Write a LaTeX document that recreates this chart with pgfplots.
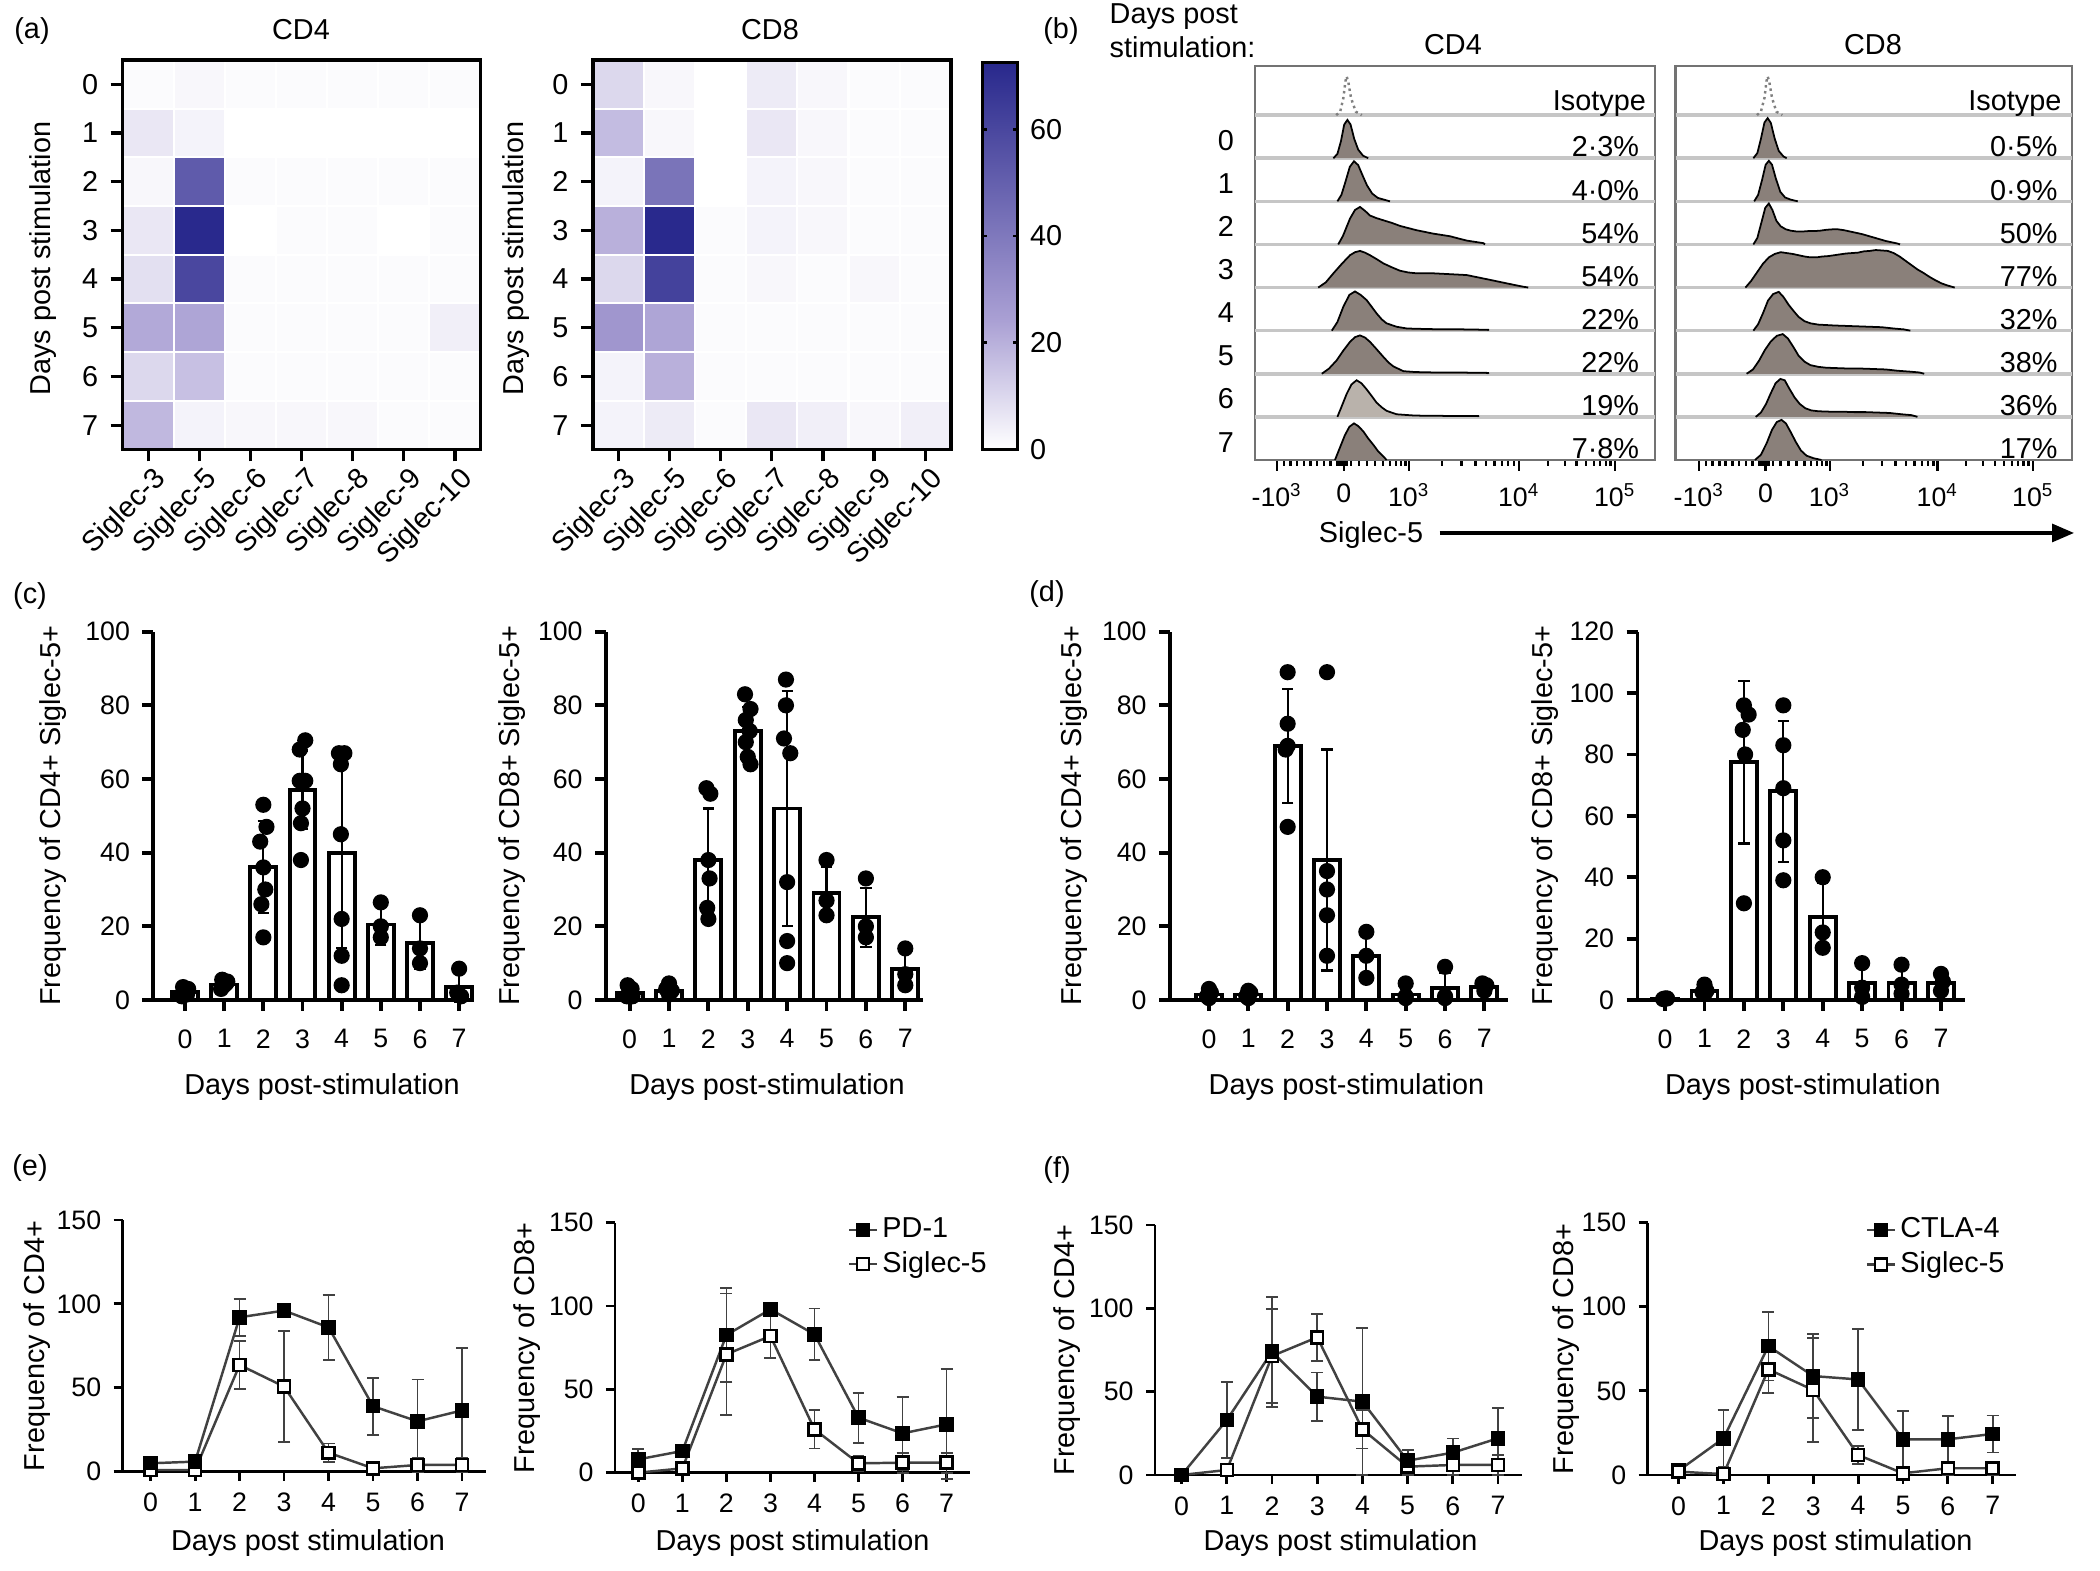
\documentclass[border=0pt]{standalone}
\usepackage{pgfplots}
\pgfplotsset{compat=1.18}
\usepackage{fontspec}
\setmainfont{Liberation Sans}
\usetikzlibrary{arrows.meta}
\definecolor{histfill}{RGB}{138,128,122}
\definecolor{histlight}{RGB}{185,178,171}
\definecolor{lgray}{RGB}{65,65,65}
\definecolor{framegray}{RGB}{115,115,115}
\newcommand{\fs}{\fontsize{8.2}{9.8}\selectfont}
\newcommand{\ts}{\fontsize{7.6}{9}\selectfont}

\pgfplotsset{
  every axis/.append style={font=\fs, /pgf/number format/assume math mode=true,
    every tick label/.append style={font=\ts}},
  heat/.style={
    scale only axis, width=35.8mm, height=38.95mm,
    xmin=-0.5, xmax=6.5, ymin=-0.5, ymax=7.5,
    colormap={sig}{rgb255(0cm)=(255,255,255) rgb255(1cm)=(170,160,212) rgb255(3cm)=(40,40,140)},
    point meta min=0, point meta max=72.5,
    xtick={0,...,6}, ytick={0,...,7},
    xticklabels={Siglec-3,Siglec-5,Siglec-6,Siglec-7,Siglec-8,Siglec-9,Siglec-10},
    yticklabels={7,6,5,4,3,2,1,0},
    xticklabel style={font=\fs, xshift=2.2mm, yshift=-0.5mm, rotate=45, anchor=east},
    yticklabel style={font=\fs},
    tick align=outside, tick pos=left,
    major tick length=1.2mm, tick style={black, line width=0.9pt},
    axis line style={line width=1pt},
    minor xtick={0.5,1.5,...,5.5}, minor ytick={0.5,1.5,...,6.5},
    minor tick length=0pt,
    xminorgrids, yminorgrids, minor grid style={white, line width=0.6pt},
    axis on top,
    ylabel={Days post stimulation},
  },
  hist/.style={
    scale only axis, height=39.4mm, xmin=0, xmax=100, ymin=0, ymax=9.14,
    ytick=\empty, tick pos=left, tick align=outside,
    major tick length=1.1mm, minor tick length=0.6mm,
    tick style={black, line width=0.7pt},
    axis line style={framegray, line width=0.7pt},
    extra y ticks={1,2,3,4,5,6,7,8},
    extra y tick labels={},
    extra y tick style={grid=major, major grid style={gray!45, line width=1pt}, tick style={draw=none}},
    xticklabels={-10\textsuperscript{3},0,10\textsuperscript{3},10\textsuperscript{4},10\textsuperscript{5}},
    clip=false,
  },
  barax/.style={
    scale only axis, height=36.83mm, ymin=0,
    axis lines*=left, xtick={0,...,7}, tick align=outside,
    major tick length=1.1mm, axis line style={line width=1.1pt},
    tick style={black, line width=1.1pt}, clip=false,
    xlabel={Days post-stimulation},
    xticklabel style={yshift=-0.6mm},
  },
  linax/.style={
    scale only axis, ymin=0, ymax=150, ytick={0,50,100,150},
    axis lines*=left, xtick={0,...,7}, tick align=outside,
    major tick length=0.9mm, axis line style={line width=0.8pt},
    tick style={black, line width=0.8pt}, clip=false,
    xlabel={Days post stimulation},
    legend style={draw=none, fill=none, inner sep=0pt, row sep=0pt, font=\fs, nodes={inner sep=1.2pt}},
    legend cell align=left,
    legend image code/.code={\draw[##1, mark repeat=2, mark phase=2] plot coordinates {(0mm,0mm) (1.4mm,0mm) (2.8mm,0mm)};},
  },
  barplot/.style={ybar, bar width=0.66, fill=white, draw=black, line width=1.1pt,
     error bars/.cd, y dir=both, y explicit,
     error bar style={line width=0.6pt, black},
     error mark options={rotate=90, mark size=1.6pt, line width=0.6pt, black}},
  dots/.style={only marks, mark=*, mark size=2.1pt, black},
  hf/.style={fill=histfill, draw=black, line width=0.5pt},
  iso/.style={draw=gray, densely dotted, line width=0.7pt},
  pdline/.style={lgray, line width=0.7pt, mark=square*, mark size=1.7pt, mark options={draw=black, fill=black, solid},
     error bars/.cd, y dir=both, y explicit, error bar style={line width=0.5pt, lgray},
     error mark options={rotate=90, mark size=1.7pt, line width=0.5pt, lgray}},
  sgline/.style={lgray, line width=0.7pt, mark=square*, mark size=1.7pt, mark options={draw=black, fill=white, solid},
     error bars/.cd, y dir=both, y explicit, error bar style={line width=0.5pt, lgray},
     error mark options={rotate=90, mark size=1.7pt, line width=0.5pt, lgray}},
}

\begin{document}
\begin{tikzpicture}[font=\fs]
\useasboundingbox (0,0) rectangle (210mm,157.1mm);

% ================= (a) heatmaps =================
\begin{axis}[heat, at={(12.26mm,112.15mm)}, anchor=south west,
  ylabel style={at={(axis description cs:-0.221,0.49)}, anchor=center}]
\addplot[matrix plot*, point meta=explicit, mesh/cols=7] table[row sep=\\, meta=c]{
x y c\\
0 0 18\\ 1 0 3\\ 2 0 2\\ 3 0 2\\ 4 0 2\\ 5 0 1\\ 6 0 1\\
0 1 10\\ 1 1 16\\ 2 1 1\\ 3 1 1\\ 4 1 1\\ 5 1 1\\ 6 1 1\\
0 2 22\\ 1 2 23\\ 2 2 1\\ 3 2 1\\ 4 2 1\\ 5 2 1\\ 6 2 4\\
0 3 8\\ 1 3 60\\ 2 3 1\\ 3 3 1\\ 4 3 1\\ 5 3 1\\ 6 3 1\\
0 4 6\\ 1 4 72\\ 2 4 0\\ 3 4 1\\ 4 4 1\\ 5 4 0\\ 6 4 1\\
0 5 2\\ 1 5 52\\ 2 5 1\\ 3 5 1\\ 4 5 1\\ 5 5 1\\ 6 5 1\\
0 6 6\\ 1 6 3\\ 2 6 0\\ 3 6 0\\ 4 6 0\\ 5 6 0\\ 6 6 0\\
0 7 1\\ 1 7 2\\ 2 7 1\\ 3 7 1\\ 4 7 1\\ 5 7 1\\ 6 7 1\\
};
\end{axis}

\begin{axis}[heat, at={(59.28mm,112.15mm)}, anchor=south west,
  ylabel style={at={(axis description cs:-0.215,0.49)}, anchor=center},
  colorbar,
  colorbar style={at={(parent axis.south east)}, anchor=south west, xshift=0.15mm,
    scale only axis, width=3.55mm, height=38.7mm, ytick={0,20,40,60},
    yticklabel pos=right, ytick pos=both, major tick length=0.5mm, tick align=inside,
    tick style={black, line width=0.8pt}, axis line style={line width=0.9pt},
    yticklabel style={font=\fs}}]
\addplot[matrix plot*, point meta=explicit, mesh/cols=7] table[row sep=\\, meta=c]{
x y c\\
0 0 3\\ 1 0 5\\ 2 0 1\\ 3 0 6\\ 4 0 4\\ 5 0 2\\ 6 0 4\\
0 1 3\\ 1 1 20\\ 2 1 1\\ 3 1 1\\ 4 1 1\\ 5 1 1\\ 6 1 1\\
0 2 28\\ 1 2 23\\ 2 2 1\\ 3 2 1\\ 4 2 1\\ 5 2 1\\ 6 2 1\\
0 3 10\\ 1 3 62\\ 2 3 1\\ 3 3 2\\ 4 3 1\\ 5 3 2\\ 6 3 1\\
0 4 20\\ 1 4 72\\ 2 4 1\\ 3 4 3\\ 4 4 2\\ 5 4 1\\ 6 4 1\\
0 5 3\\ 1 5 42\\ 2 5 0\\ 3 5 3\\ 4 5 2\\ 5 5 1\\ 6 5 1\\
0 6 17\\ 1 6 2\\ 2 6 0\\ 3 6 6\\ 4 6 2\\ 5 6 1\\ 6 6 1\\
0 7 10\\ 1 7 2\\ 2 7 0\\ 3 7 5\\ 4 7 2\\ 5 7 1\\ 6 7 1\\
};
\end{axis}

% ================= (b) histograms =================
\begin{axis}[hist, at={(125.5mm,111.1mm)}, anchor=south west, width=40mm,
  xtick={5.5,22.2,38.5,66,90},
  minor xtick={7.2,8.9,10.5,12.2,13.9,15.5,17.2,18.9,20.5,21.0,21.4,21.8,22.6,23.0,24,26,28,30,32,33.7,35.2,36.5,37.6,46.8,51.6,55.1,57.7,59.9,61.7,63.3,64.7,73.2,77.5,80.4,82.8,84.7,86.3,87.7,88.9}]
\addplot[iso] table[row sep=\\, x=u, y expr=\thisrow{h}+8]{u h\\ 20.3 0\\ 21.3 0.08\\ 22.1 0.4\\ 22.6 0.78\\ 22.9 0.9\\ 23.3 0.78\\ 24 0.4\\ 25.2 0.08\\ 26.7 0\\};
\addplot[hf] table[row sep=\\, x=u, y expr=\thisrow{h}+7]{u h\\ 19.6 0\\ 20.6 0.1\\ 21.5 0.4\\ 22.3 0.78\\ 23.1 0.89\\ 23.9 0.78\\ 24.8 0.45\\ 25.8 0.2\\ 27 0.06\\ 28.3 0\\};
\addplot[hf] table[row sep=\\, x=u, y expr=\thisrow{h}+6]{u h\\ 20.6 0\\ 21.6 0.15\\ 22.6 0.45\\ 23.7 0.8\\ 24.75 0.93\\ 25.8 0.84\\ 26.9 0.6\\ 28 0.37\\ 29.3 0.18\\ 30.7 0.08\\ 32.2 0.04\\ 33.75 0\\};
\addplot[hf] table[row sep=\\, x=u, y expr=\thisrow{h}+5]{u h\\ 20.8 0\\ 22 0.2\\ 23.75 0.6\\ 25 0.8\\ 26.25 0.87\\ 27.5 0.78\\ 28.75 0.67\\ 30.4 0.61\\ 32.1 0.56\\ 34.2 0.5\\ 36.25 0.43\\ 38.3 0.38\\ 40.4 0.33\\ 42.5 0.29\\ 44.6 0.25\\ 46.7 0.22\\ 48.75 0.19\\ 50.8 0.14\\ 52.9 0.09\\ 55 0.06\\ 57.1 0.03\\ 57.5 0\\};
\addplot[hf] table[row sep=\\, x=u, y expr=\thisrow{h}+4]{u h\\ 15.8 0\\ 17.7 0.12\\ 19.6 0.33\\ 21.7 0.55\\ 23.75 0.75\\ 25 0.82\\ 26.25 0.85\\ 27.5 0.81\\ 28.75 0.75\\ 30.4 0.66\\ 32.1 0.56\\ 34.2 0.47\\ 36.25 0.39\\ 38.3 0.35\\ 40.4 0.33\\ 42.5 0.33\\ 44.6 0.33\\ 46.7 0.32\\ 48.75 0.31\\ 50.8 0.3\\ 52.9 0.29\\ 55 0.25\\ 57.1 0.21\\ 59.2 0.17\\ 61.25 0.13\\ 63.3 0.09\\ 65.4 0.05\\ 67 0.02\\ 68.3 0\\};
\addplot[hf] table[row sep=\\, x=u, y expr=\thisrow{h}+3]{u h\\ 19.2 0\\ 20.6 0.2\\ 22.1 0.56\\ 23.6 0.83\\ 25 0.91\\ 26.4 0.83\\ 27.9 0.71\\ 29.2 0.55\\ 30.4 0.4\\ 31.7 0.26\\ 32.9 0.17\\ 35.4 0.09\\ 38 0.05\\ 42 0.04\\ 47 0.03\\ 52 0.03\\ 58.3 0.02\\ 58.4 0\\};
\addplot[hf] table[row sep=\\, x=u, y expr=\thisrow{h}+2]{u h\\ 16.7 0\\ 18.5 0.12\\ 20.4 0.31\\ 22.1 0.54\\ 23.75 0.74\\ 25 0.85\\ 26.25 0.89\\ 27.5 0.84\\ 28.75 0.74\\ 30.4 0.57\\ 32.1 0.39\\ 33.4 0.26\\ 34.6 0.17\\ 37.1 0.06\\ 40 0.04\\ 45 0.03\\ 50 0.03\\ 58.3 0.02\\ 58.4 0\\};
\addplot[hf, fill=histlight] table[row sep=\\, x=u, y expr=\thisrow{h}+1]{u h\\ 20.6 0\\ 21.7 0.25\\ 22.9 0.53\\ 24.1 0.75\\ 25.4 0.85\\ 26.6 0.78\\ 27.9 0.64\\ 29.2 0.48\\ 30.4 0.33\\ 31.7 0.22\\ 32.9 0.14\\ 35.4 0.06\\ 40 0.03\\ 50 0.02\\ 55.8 0.02\\ 55.9 0\\};
\addplot[hf] table[row sep=\\, x=u, y=h]{u h\\ 20 0\\ 21.2 0.28\\ 22.5 0.58\\ 23.6 0.77\\ 24.75 0.85\\ 25.9 0.78\\ 27.1 0.66\\ 28.3 0.5\\ 29.6 0.35\\ 30.8 0.2\\ 32.1 0.08\\ 32.9 0\\};
\node[anchor=base east, inner sep=0pt] at (axis cs:97.9,8.1) {Isotype};
\node[anchor=base east, inner sep=0pt] at (axis cs:96.2,7.03) {2·3\%};
\node[anchor=base east, inner sep=0pt] at (axis cs:96.2,6.03) {4·0\%};
\node[anchor=base east, inner sep=0pt] at (axis cs:96.2,5.03) {54\%};
\node[anchor=base east, inner sep=0pt] at (axis cs:96.2,4.03) {54\%};
\node[anchor=base east, inner sep=0pt] at (axis cs:96.2,3.03) {22\%};
\node[anchor=base east, inner sep=0pt] at (axis cs:96.2,2.03) {22\%};
\node[anchor=base east, inner sep=0pt] at (axis cs:96.2,1.03) {19\%};
\node[anchor=base east, inner sep=0pt] at (axis cs:96.2,0.03) {7·8\%};
\node[anchor=east] at (axis cs:-2.2,7.42) {0};
\node[anchor=east] at (axis cs:-2.2,6.42) {1};
\node[anchor=east] at (axis cs:-2.2,5.42) {2};
\node[anchor=east] at (axis cs:-2.2,4.42) {3};
\node[anchor=east] at (axis cs:-2.2,3.42) {4};
\node[anchor=east] at (axis cs:-2.2,2.42) {5};
\node[anchor=east] at (axis cs:-2.2,1.42) {6};
\node[anchor=east] at (axis cs:-2.2,0.40) {7};
\end{axis}

\begin{axis}[hist, at={(167.57mm,111.1mm)}, anchor=south west, width=39.63mm,
  xtick={5.9,22.7,38.9,66.1,90.2},
  minor xtick={7.6,9.3,11,12.6,14.3,16,17.7,19.4,21,21.5,21.9,22.3,23.1,23.5,24.5,26.5,28.5,30.5,32.5,34.1,35.6,36.9,38,47.2,52,55.5,58.1,60.3,62.1,63.7,65.1,73.3,77.6,80.5,82.9,84.8,86.4,87.8,89}]
\addplot[iso] table[row sep=\\, x=u, y expr=\thisrow{h}+8]{u h\\ 20.5 0\\ 21.5 0.08\\ 22.4 0.4\\ 22.9 0.78\\ 23.2 0.9\\ 23.6 0.78\\ 24.3 0.4\\ 25.4 0.08\\ 26.9 0\\};
\addplot[hf] table[row sep=\\, x=u, y expr=\thisrow{h}+7]{u h\\ 19.6 0\\ 20.6 0.12\\ 21.5 0.45\\ 22.4 0.83\\ 23.2 0.93\\ 24 0.82\\ 25 0.45\\ 26 0.17\\ 27.2 0.04\\ 28 0\\};
\addplot[hf] table[row sep=\\, x=u, y expr=\thisrow{h}+6]{u h\\ 19.8 0\\ 20.8 0.15\\ 21.8 0.5\\ 22.7 0.85\\ 23.5 0.94\\ 24.3 0.85\\ 25.3 0.52\\ 26.4 0.22\\ 27.6 0.09\\ 29 0.04\\ 30.8 0\\};
\addplot[hf] table[row sep=\\, x=u, y expr=\thisrow{h}+5]{u h\\ 19.6 0\\ 20.6 0.15\\ 21.6 0.5\\ 22.6 0.85\\ 23.5 0.95\\ 24.4 0.8\\ 25.4 0.55\\ 26.5 0.42\\ 27.8 0.35\\ 29 0.32\\ 30.5 0.3\\ 32 0.3\\ 33.5 0.31\\ 35 0.31\\ 36.5 0.32\\ 38 0.34\\ 39.5 0.35\\ 41 0.35\\ 42.5 0.33\\ 44 0.3\\ 45.5 0.27\\ 47 0.24\\ 48.5 0.2\\ 50 0.16\\ 51.5 0.12\\ 53 0.08\\ 54.5 0.05\\ 56 0.02\\ 56.6 0\\};
\addplot[hf] table[row sep=\\, x=u, y expr=\thisrow{h}+4]{u h\\ 17.6 0\\ 19 0.15\\ 20.5 0.35\\ 22 0.55\\ 23.5 0.7\\ 25 0.78\\ 26.5 0.82\\ 28 0.8\\ 29.5 0.78\\ 31 0.75\\ 32.5 0.72\\ 34 0.7\\ 35.5 0.7\\ 37 0.72\\ 38.5 0.73\\ 40 0.75\\ 41.5 0.77\\ 43 0.79\\ 44.5 0.8\\ 46 0.81\\ 47.5 0.84\\ 49 0.85\\ 50.5 0.87\\ 52 0.86\\ 53.5 0.85\\ 55 0.8\\ 56.5 0.72\\ 58 0.62\\ 59.5 0.52\\ 61 0.42\\ 62.5 0.34\\ 64 0.25\\ 65.5 0.17\\ 67 0.1\\ 68.5 0.05\\ 70.4 0\\};
\addplot[hf] table[row sep=\\, x=u, y expr=\thisrow{h}+3]{u h\\ 19.6 0\\ 20.8 0.15\\ 22 0.4\\ 23.3 0.7\\ 24.6 0.85\\ 26 0.9\\ 27.2 0.78\\ 28.5 0.6\\ 29.8 0.45\\ 31 0.32\\ 32.5 0.22\\ 34 0.17\\ 36 0.14\\ 38 0.13\\ 40 0.12\\ 43 0.11\\ 46 0.1\\ 49 0.09\\ 52 0.08\\ 55 0.05\\ 57.5 0.03\\ 59.2 0\\};
\addplot[hf] table[row sep=\\, x=u, y expr=\thisrow{h}+2]{u h\\ 17.9 0\\ 19.5 0.1\\ 21 0.3\\ 22.5 0.55\\ 24 0.75\\ 25.5 0.88\\ 27 0.92\\ 28.3 0.82\\ 29.7 0.62\\ 31 0.42\\ 32.5 0.28\\ 34 0.2\\ 36 0.16\\ 38 0.14\\ 41 0.13\\ 44 0.12\\ 47 0.12\\ 50 0.11\\ 53 0.1\\ 56 0.07\\ 59 0.05\\ 61.5 0.03\\ 62.7 0\\};
\addplot[hf] table[row sep=\\, x=u, y expr=\thisrow{h}+1]{u h\\ 20.2 0\\ 21.5 0.1\\ 22.8 0.3\\ 24 0.55\\ 25.2 0.78\\ 26.4 0.88\\ 27.5 0.85\\ 28.7 0.65\\ 30 0.45\\ 31.3 0.3\\ 32.7 0.2\\ 34.2 0.15\\ 36 0.13\\ 39 0.12\\ 42 0.12\\ 45 0.11\\ 48 0.11\\ 51 0.1\\ 54 0.09\\ 57 0.06\\ 59.5 0.04\\ 61 0\\};
\addplot[hf] table[row sep=\\, x=u, y=h]{u h\\ 20 0\\ 21.5 0.12\\ 23 0.4\\ 24.3 0.7\\ 25.5 0.88\\ 26.7 0.93\\ 27.8 0.85\\ 29 0.65\\ 30.3 0.42\\ 31.6 0.22\\ 33 0.1\\ 34.8 0.04\\ 36.8 0\\};
\node[anchor=base east, inner sep=0pt] at (axis cs:97.5,8.1) {Isotype};
\node[anchor=base east, inner sep=0pt] at (axis cs:96.5,7.03) {0·5\%};
\node[anchor=base east, inner sep=0pt] at (axis cs:96.5,6.03) {0·9\%};
\node[anchor=base east, inner sep=0pt] at (axis cs:96.5,5.03) {50\%};
\node[anchor=base east, inner sep=0pt] at (axis cs:96.5,4.03) {77\%};
\node[anchor=base east, inner sep=0pt] at (axis cs:96.5,3.03) {32\%};
\node[anchor=base east, inner sep=0pt] at (axis cs:96.5,2.03) {38\%};
\node[anchor=base east, inner sep=0pt] at (axis cs:96.5,1.03) {36\%};
\node[anchor=base east, inner sep=0pt] at (axis cs:96.5,0.03) {17\%};
\end{axis}

% ================= (c) =================
\begin{axis}[barax, at={(15.33mm,57.1mm)}, anchor=south west, width=31.6mm,
  xmin=-0.81, xmax=7.26, ymax=100, ytick={0,20,...,100},
  ylabel={Frequency of CD4+ Siglec-5+},
  ylabel style={at={(axis description cs:-0.316,0.5)}, anchor=center},
  xlabel style={at={(axis description cs:0.534,-0.236)}, anchor=center}]
\addplot[barplot] table[row sep=\\, x=x, y=m, y error=e]{x m e\\ 0 2.2 1\\ 1 4.2 1\\ 2 36 12.5\\ 3 57 10.5\\ 4 40 26\\ 5 20.5 5.5\\ 6 15.5 7\\ 7 3.6 4\\};
\addplot[dots] table[row sep=\\]{x y\\ -0.08 1\\ 0 2\\ 0.08 3\\ 0.05 1.5\\ -0.05 3.5\\ 0 2.5\\ 0.92 3\\ 1 4\\ 1.08 5\\ 0.95 5.5\\ 1.05 4.5\\ 2 53\\ 2.08 47\\ 1.92 43\\ 2 36\\ 2.05 30\\ 1.95 26\\ 2 17\\ 3.07 70.5\\ 2.93 68\\ 2.93 59.5\\ 3.07 59.5\\ 3 52\\ 2.96 48\\ 2.96 38\\ 3.93 67\\ 4.07 67\\ 3.98 64\\ 3.98 45\\ 4 22\\ 4 12\\ 4 4\\ 5 26.5\\ 5 20\\ 5 17\\ 6 23\\ 6 14\\ 6 10\\ 7 8.5\\ 6.95 2\\ 7.05 1\\};
\end{axis}

\begin{axis}[barax, at={(60.6mm,57.1mm)}, anchor=south west, width=31.7mm,
  xmin=-0.6, xmax=7.45, ymax=100, ytick={0,20,...,100},
  ylabel={Frequency of CD8+ Siglec-5+},
  ylabel style={at={(axis description cs:-0.295,0.5)}, anchor=center},
  xlabel style={at={(axis description cs:0.508,-0.236)}, anchor=center}]
\addplot[barplot] table[row sep=\\, x=x, y=m, y error=e]{x m e\\ 0 2 1\\ 1 2.5 1.2\\ 2 38 14\\ 3 73 6.5\\ 4 52 32\\ 5 29 7\\ 6 22.5 8\\ 7 8.5 5\\};
\addplot[dots] table[row sep=\\]{x y\\ -0.05 4\\ 0.05 3\\ 0 2\\ -0.07 1\\ 0.07 1\\ 1 4.5\\ 0.93 3\\ 1.07 2.5\\ 1 1.5\\ 1.95 57.5\\ 2.05 56\\ 2 38\\ 2.03 33\\ 1.97 25\\ 2 22\\ 2.93 83\\ 3.07 79\\ 2.95 76\\ 3.05 73\\ 2.95 70\\ 3 66\\ 3.07 64\\ 3.97 87\\ 3.97 80\\ 3.92 71\\ 4.08 67\\ 4 32\\ 4 16\\ 4 10\\ 5 38\\ 5 27\\ 5 23\\ 6 33\\ 6 20\\ 6 17\\ 7 14\\ 7 7\\ 7 4\\};
\end{axis}

% ================= (d) =================
\begin{axis}[barax, at={(117.0mm,57.1mm)}, anchor=south west, width=33.8mm,
  xmin=-0.99, xmax=7.6, ymax=100, ytick={0,20,...,100},
  ylabel={Frequency of CD4+ Siglec-5+},
  ylabel style={at={(axis description cs:-0.283,0.5)}, anchor=center},
  xlabel style={at={(axis description cs:0.522,-0.236)}, anchor=center}]
\addplot[barplot] table[row sep=\\, x=x, y=m, y error=e]{x m e\\ 0 1.5 1\\ 1 1.5 0.8\\ 2 69 15.5\\ 3 38 30\\ 4 12 6\\ 5 1.5 1.5\\ 6 3.3 4\\ 7 3.5 1.2\\};
\addplot[dots] table[row sep=\\]{x y\\ 0 3\\ 0.05 2\\ -0.05 1\\ 0 0.5\\ 1 2.5\\ 1.05 2\\ 0.95 1\\ 1 0.5\\ 2 89\\ 2 75\\ 2 69\\ 1.95 68\\ 2 47\\ 3 89\\ 3 35\\ 3 30\\ 3 23\\ 3 12\\ 4 18.5\\ 4 12\\ 4 6\\ 5 4.5\\ 5 1\\ 5 0.5\\ 6 9\\ 6 1\\ 6 0.5\\ 6.95 4.5\\ 7.05 4\\ 7 2.5\\};
\end{axis}

\begin{axis}[barax, at={(163.75mm,57.1mm)}, anchor=south west, width=32.75mm,
  xmin=-0.7, xmax=7.61, ymax=120, ytick={0,20,...,120},
  ylabel={Frequency of CD8+ Siglec-5+},
  ylabel style={at={(axis description cs:-0.281,0.5)}, anchor=center},
  xlabel style={at={(axis description cs:0.505,-0.236)}, anchor=center}]
\addplot[barplot] table[row sep=\\, x=x, y=m, y error=e]{x m e\\ 0 0.5 0.3\\ 1 3 1.2\\ 2 77.5 26.5\\ 3 68 23\\ 4 27 11\\ 5 5.5 6\\ 6 5.5 5.5\\ 7 5.5 2.5\\};
\addplot[dots] table[row sep=\\]{x y\\ 0 0.5\\ 0.05 0.5\\ -0.05 0.3\\ 1 5\\ 1.05 3\\ 0.95 2.5\\ 1 2\\ 2 96\\ 2.12 93\\ 1.97 88\\ 2.03 80\\ 2 31.5\\ 3 96\\ 3 83\\ 3 69\\ 3 52\\ 3 39\\ 4 40\\ 4 22\\ 4 17\\ 5 12\\ 5 4\\ 5 1\\ 6 11.5\\ 6 5\\ 6 2\\ 7 8.5\\ 7.05 6\\ 7 3\\};
\end{axis}

% ================= (e) =================
\begin{axis}[linax, at={(12.26mm,9.93mm)}, anchor=south west, width=36.3mm, height=25.17mm,
  xmin=-0.63, xmax=7.53,
  ylabel={Frequency of CD4+},
  ylabel style={at={(axis description cs:-0.237,0.5)}, anchor=center},
  xlabel style={at={(axis description cs:0.511,-0.282)}, anchor=center}]
\addplot[sgline] table[row sep=\\, x=x, y=y, y error=e]{x y e\\ 0 1 3\\ 1 1 2\\ 2 63.6 14.5\\ 3 50.7 33\\ 4 11.3 5.5\\ 5 2 2\\ 6 4 4\\ 7 4 4\\};
\addplot[pdline] table[row sep=\\, x=x, y=y, y error=e]{x y e\\ 0 5 3\\ 1 6 2\\ 2 92 11\\ 3 96 2\\ 4 86 19.5\\ 5 39 17\\ 6 30 25\\ 7 36.5 37\\};
\end{axis}

\begin{axis}[linax, at={(61.5mm,9.83mm)}, anchor=south west, width=35.49mm, height=25mm,
  xmin=-0.53, xmax=7.53,
  ylabel={Frequency of CD8+},
  ylabel style={at={(axis description cs:-0.249,0.5)}, anchor=center},
  xlabel style={at={(axis description cs:0.5,-0.28)}, anchor=center},
  legend style={at={(axis description cs:0.654,1.04)}, anchor=north west}]
\addplot[pdline] table[row sep=\\, x=x, y=y, y error=e]{x y e\\ 0 8 6\\ 1 13 2\\ 2 82.6 28\\ 3 98 2\\ 4 83 15.5\\ 5 33 15\\ 6 23.6 22\\ 7 29 33\\};
\addlegendentry{PD-1}
\addplot[sgline] table[row sep=\\, x=x, y=y, y error=e]{x y e\\ 0 0 1\\ 1 2.6 2\\ 2 71 36.5\\ 3 82 13\\ 4 26 11.5\\ 5 5.6 4.5\\ 6 6 6\\ 7 6 6\\};
\addlegendentry{Siglec-5}
\end{axis}

% ================= (f) =================
\begin{axis}[linax, at={(115.5mm,9.6mm)}, anchor=south west, width=36.65mm, height=25mm,
  xmin=-0.59, xmax=7.52,
  ylabel={Frequency of CD4+},
  ylabel style={at={(axis description cs:-0.239,0.5)}, anchor=center},
  xlabel style={at={(axis description cs:0.506,-0.272)}, anchor=center}]
\addplot[sgline] table[row sep=\\, x=x, y=y, y error=e]{x y e\\ 0 0 0.5\\ 1 3 3\\ 2 71.4 28\\ 3 82.6 14\\ 4 27.4 11.5\\ 5 5 5\\ 6 6 6\\ 7 6 6\\};
\addplot[pdline] table[row sep=\\, x=x, y=y, y error=e]{x y e\\ 0 0 1.5\\ 1 33 23\\ 2 74 33\\ 3 47 14.5\\ 4 44 44\\ 5 8.6 6.5\\ 6 13.4 8.5\\ 7 22 18\\};
\end{axis}

\begin{axis}[linax, at={(164.77mm,9.6mm)}, anchor=south west, width=36.83mm, height=25.23mm,
  xmin=-0.69, xmax=7.52,
  ylabel={Frequency of CD8+},
  ylabel style={at={(axis description cs:-0.223,0.5)}, anchor=center},
  xlabel style={at={(axis description cs:0.51,-0.27)}, anchor=center},
  legend style={at={(axis description cs:0.59,1.04)}, anchor=north west}]
\addplot[pdline] table[row sep=\\, x=x, y=y, y error=e]{x y e\\ 0 2.6 1\\ 1 21.8 17\\ 2 76.6 20.5\\ 3 58.8 25\\ 4 56.8 30\\ 5 21.2 17\\ 6 21.2 14\\ 7 24.4 11\\};
\addlegendentry{CTLA-4}
\addplot[sgline] table[row sep=\\, x=x, y=y, y error=e]{x y e\\ 0 2 1\\ 1 0.5 2\\ 2 62.8 14\\ 3 50.5 31\\ 4 11.9 5.5\\ 5 1 1\\ 6 4 4\\ 7 4 4\\};
\addlegendentry{Siglec-5}
\end{axis}

% ================= free text =================
\node at (3.2mm,154mm) {(a)};
\node at (106.1mm,154mm) {(b)};
\node at (3.0mm,97.5mm) {(c)};
\node at (104.7mm,97.7mm) {(d)};
\node at (3.0mm,40.3mm) {(e)};
\node at (105.7mm,40.1mm) {(f)};
\node at (30.1mm,154.1mm) {CD4};
\node at (77.0mm,154.1mm) {CD8};
\node at (145.3mm,152.6mm) {CD4};
\node at (187.3mm,152.6mm) {CD8};
\node[anchor=west, align=left, inner sep=0pt] at (110.9mm,154.0mm) {Days post\\stimulation:};
\node at (137.1mm,103.6mm) {Siglec-5};
\draw[line width=0.9pt, -{Triangle[length=2.2mm, width=1.8mm]}] (143.96mm,103.8mm) -- (207.4mm,103.8mm);
\end{tikzpicture}
\end{document}
